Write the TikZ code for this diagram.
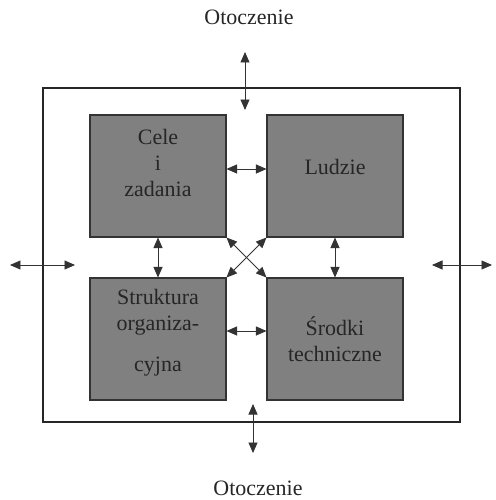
\documentclass[tikz,border=0pt]{standalone}
\usepackage{fontspec}
\setmainfont{Liberation Serif}
\usetikzlibrary{arrows.meta}

\begin{document}
\begin{tikzpicture}[
    x=0.02cm, y=-0.02cm,
    blok/.style ={
        rectangle,
        fill=gray,
        draw=black!80,
        line width=0.6pt,
        inner sep=0pt,
        minimum width=2.72cm,
        minimum height=2.44cm
    },
    napis/.style ={
        align=center,
        text=black!85,
        font=\fontsize{12.5}{14.7}\selectfont
    },
    dwa/.style ={
        {Triangle[length=2.1mm,width=1.8mm]}-{Triangle[length=2.1mm,width=1.8mm]},
        line width=0.5pt,
        black!80
    }
    ]
    \useasboundingbox (0,0) rectangle (495,500);

    \node[draw=black!85, line width=0.8pt, minimum width=8.34cm, minimum height=6.68cm, inner sep=0pt] (system) at (251.5,255) {};

    \foreach \x/ \pos in {{cele/(158,176)}, {ludzie/(335,176)}, {struktura/(158,339)}, {srodki/(335,339)}}
        \node[blok] (\x) at \pos {};

    \node[napis] (celetxt) at (158,163) {Cele\\i\\zadania};
    \node[napis] (ludzietxt) at (335,167) {Ludzie};
    \node[napis] (strukturatxt) at (158,333) {Struktura\\organiza-\\[9pt]cyjna};
    \node[napis] (srodkitxt) at (335,339) {Środki\\techniczne};

    \node[napis] (otgora) at (249,17) {Otoczenie};
    \node[napis] (otdol) at (258,488) {Otoczenie};

    \coordinate (g1) at (245,52);
    \coordinate (g2) at (245,110);
    \coordinate (d1) at (253,404);
    \coordinate (d2) at (253,453);
    \coordinate (l1) at (10,265);
    \coordinate (l2) at (75,265);
    \coordinate (p1) at (432,265);
    \coordinate (p2) at (492,265);

    \foreach \src/ \dst in {g1/g2, d1/d2, l1/l2, p1/p2, cele.south/struktura.north, ludzie.south/srodki.north, cele.south east/srodki.north west, ludzie.south west/struktura.north east}
        \draw[dwa] (\src) -- (\dst);

    \draw[dwa] ([yshift=1.4mm]cele.east) -- ([yshift=1.4mm]ludzie.west);
    \draw[dwa] ([yshift=1.6mm]struktura.east) -- ([yshift=1.6mm]srodki.west);

\end{tikzpicture}
\end{document}
